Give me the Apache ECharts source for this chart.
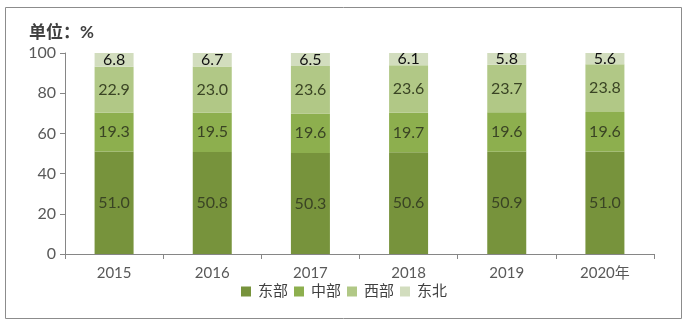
<!DOCTYPE html>
<html>
<head>
<meta charset="utf-8">
<script src="https://cdn.jsdelivr.net/npm/echarts@6/dist/echarts.min.js"></script>
<style>
  html, body { margin: 0; padding: 0; background: #fff; }
  #chart { width: 688px; height: 326px; }
</style>
</head>
<body>
<div id="chart"></div>
<script>
// Regional shares of the total, per year (%)
const years = ['2015', '2016', '2017', '2018', '2019', '2020年'];
const east = [51.0, 50.8, 50.3, 50.6, 50.9, 51.0];
const central = [19.3, 19.5, 19.6, 19.7, 19.6, 19.6];
const west = [22.9, 23.0, 23.6, 23.6, 23.7, 23.8];
const northeast = [6.8, 6.7, 6.5, 6.1, 5.8, 5.6];
const seriesNames = ['东部', '中部', '西部', '东北'];
const yTicks = [0, 20, 40, 60, 80, 100];

const FONT = "Lato, 'Noto Sans CJK SC', sans-serif";
const colors = ['#77933C', '#8DAF4E', '#B1C886', '#D2DDBE'];

function makeSeries(name, data, color, labelColor) {
  return {
    name: name,
    type: 'bar',
    stack: 'total',
    barWidth: 39,
    data: data,
    itemStyle: { color: color },
    label: {
      show: true,
      position: 'inside',
      formatter: p => p.value.toFixed(1),
      color: labelColor,
      fontFamily: FONT,
      fontSize: 16
    }
  };
}

const chart = echarts.init(document.getElementById('chart'), null, { renderer: 'canvas' });
chart.setOption({
  animation: false,
  backgroundColor: '#fff',
  color: colors,
  textStyle: { fontFamily: FONT },
  graphic: [{
    type: 'rect',
    shape: { x: 5.5, y: 7.5, width: 676, height: 311 },
    style: { fill: 'none', stroke: '#8c8c8c', lineWidth: 1 },
    silent: true
  }],
  title: {
    text: '单位：%',
    left: 24,
    top: 19,
    textStyle: { fontFamily: FONT, fontSize: 17, fontWeight: 'bold', color: '#404040' }
  },
  legend: {
    data: seriesNames,
    bottom: 22,
    left: 236,
    itemWidth: 10,
    itemHeight: 10,
    itemGap: 6,
    icon: 'rect',
    textStyle: { fontFamily: FONT, fontSize: 15, color: '#404040', padding: [0, 0, 0, 2] }
  },
  grid: { left: 65, right: 34, top: 53, bottom: 72, containLabel: false },
  xAxis: {
    type: 'category',
    data: years,
    axisLine: { show: true, lineStyle: { color: '#868686', width: 1 } },
    axisTick: { show: true, alignWithLabel: false, length: 5, lineStyle: { color: '#868686' } },
    axisLabel: { color: '#595959', fontFamily: FONT, fontSize: 15, margin: 12 },
    splitLine: { show: false }
  },
  yAxis: {
    type: 'value',
    min: yTicks[0],
    max: yTicks[yTicks.length - 1],
    interval: yTicks[1] - yTicks[0],
    axisLine: { show: true, lineStyle: { color: '#868686', width: 1 } },
    axisTick: { show: true, length: 5, lineStyle: { color: '#868686' } },
    axisLabel: { color: '#595959', fontFamily: FONT, fontSize: 16, margin: 9 },
    splitLine: { show: false }
  },
  series: [
    makeSeries(seriesNames[0], east, colors[0], '#3a4424'),
    makeSeries(seriesNames[1], central, colors[1], '#3a4424'),
    makeSeries(seriesNames[2], west, colors[2], '#3a4424'),
    makeSeries(seriesNames[3], northeast, colors[3], '#111')
  ]
});
</script>
</body>
</html>
